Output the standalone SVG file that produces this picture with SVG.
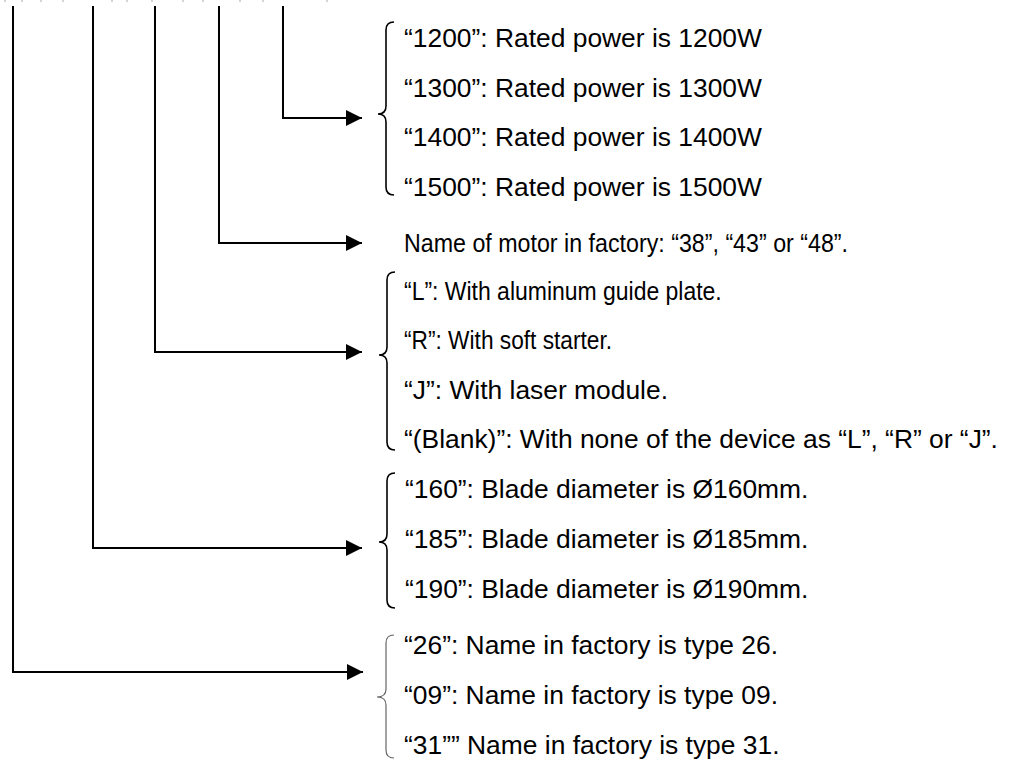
<svg xmlns="http://www.w3.org/2000/svg" width="1011" height="763" viewBox="0 0 1011 763">
<style>
.t{font-family:"Liberation Sans",Arial,sans-serif;font-size:26.4px;fill:#000}
.c{fill:none;stroke:#000;stroke-width:2}
.b{fill:none;stroke:#000;stroke-width:1.6}
.bg{fill:none;stroke:#666;stroke-width:1.2}
.tick{stroke:#aaa;stroke-width:1}
</style>
<defs>
<marker id="ah" markerUnits="userSpaceOnUse" markerWidth="16" markerHeight="16" refX="16" refY="8" orient="auto">
<path d="M0,0 L16,8 L0,16 Z" fill="#000"/>
</marker>
</defs>
<rect width="1011" height="763" fill="#fff"/>
<g id="top-ticks">
<line class="tick" x1="5" y1="0" x2="5" y2="2"/>
<line class="tick" x1="22" y1="0" x2="22" y2="2"/>
<line class="tick" x1="41" y1="0" x2="41" y2="2"/>
<line class="tick" x1="63" y1="0" x2="63" y2="2"/>
<line class="tick" x1="112" y1="0" x2="112" y2="2"/>
<line class="tick" x1="127" y1="0" x2="127" y2="2"/>
<line class="tick" x1="152" y1="0" x2="152" y2="2"/>
<line class="tick" x1="183" y1="0" x2="183" y2="2"/>
<line class="tick" x1="203" y1="0" x2="203" y2="2"/>
<line class="tick" x1="240" y1="0" x2="240" y2="2"/>
<line class="tick" x1="263" y1="0" x2="263" y2="2"/>
<line class="tick" x1="327" y1="0" x2="327" y2="2"/>
</g>
<g id="connectors">
<polyline class="c" points="283,6 283,118 362,118" marker-end="url(#ah)"/>
<polyline class="c" points="219,6 219,243 362,243" marker-end="url(#ah)"/>
<polyline class="c" points="155,6 155,352 362,352" marker-end="url(#ah)"/>
<polyline class="c" points="93,6 93,548 362,548" marker-end="url(#ah)"/>
<polyline class="c" points="13,6 13,672 363,672" marker-end="url(#ah)"/>
</g>
<g id="power">
<path class="b" d="M394,22 Q386,22 386,30 L386,106 Q386,114 378,114 Q386,114 386,122 L386,187 Q386,195 394,195"/>
<text class="t" x="404" y="47">“1200”: Rated power is 1200W</text>
<text class="t" x="404" y="97">“1300”: Rated power is 1300W</text>
<text class="t" x="404" y="146">“1400”: Rated power is 1400W</text>
<text class="t" x="404" y="196">“1500”: Rated power is 1500W</text>
</g>
<g id="motor">
<text class="t" transform="translate(404,252) scale(0.88,1)">Name of motor in factory: “38”, “43” or “48”.</text>
</g>
<g id="device">
<path class="b" d="M395,272 Q387,272 387,280 L387,347 Q387,355 379,355 Q387,355 387,363 L387,442 Q387,450 395,450"/>
<text class="t" transform="translate(404,300) scale(0.87,1)">“L”: With aluminum guide plate.</text>
<text class="t" transform="translate(404,349) scale(0.86,1)">“R”: With soft starter.</text>
<text class="t" x="404" y="399">“J”: With laser module.</text>
<text class="t" x="404" y="448">“(Blank)”: With none of the device as “L”, “R” or “J”.</text>
</g>
<g id="blade">
<path class="b" d="M395,473 Q387,473 387,481 L387,534 Q387,542 379,542 Q387,542 387,550 L387,600 Q387,608 395,608"/>
<text class="t" x="405" y="498">“160”: Blade diameter is Ø160mm.</text>
<text class="t" x="405" y="548">“185”: Blade diameter is Ø185mm.</text>
<text class="t" x="405" y="598">“190”: Blade diameter is Ø190mm.</text>
</g>
<g id="type">
<path class="bg" d="M394,635 Q386,635 386,643 L386,689 Q386,697 377,697 Q386,697 386,705 L386,750 Q386,758 394,758"/>
<text class="t" x="404" y="654">“26”: Name in factory is type 26.</text>
<text class="t" x="404" y="704">“09”: Name in factory is type 09.</text>
<text class="t" x="404" y="754">“31”” Name in factory is type 31.</text>
</g>
</svg>
